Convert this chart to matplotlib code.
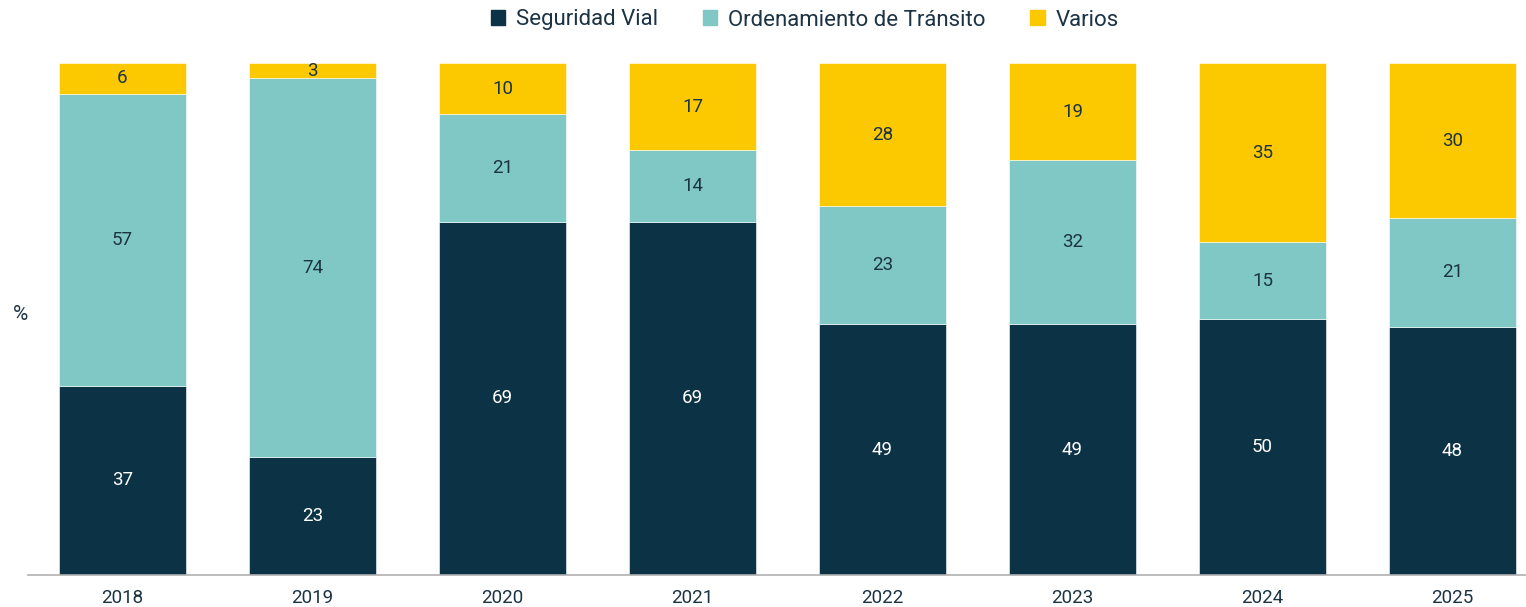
import matplotlib.pyplot as plt
import numpy as np
from matplotlib.patches import Patch

plt.rcParams['font.family'] = ['Roboto', 'DejaVu Sans']

years = ["2018", "2019", "2020", "2021", "2022", "2023", "2024", "2025"]
seguridad = [37, 23, 69, 69, 49, 49, 50, 48]
ordenamiento = [57, 74, 21, 14, 23, 32, 15, 21]
varios = [6, 3, 10, 17, 28, 19, 35, 30]

series = [("Seguridad Vial", seguridad, "#0b3245", "white"),
          ("Ordenamiento de Tránsito", ordenamiento, "#7fc8c6", "#1c3344"),
          ("Varios", varios, "#fcc800", "#1c3344")]

text_color = "#1c3344"

# totals per year, bars are stacked to 100%
totals = np.array(seguridad) + np.array(ordenamiento) + np.array(varios)

fig = plt.figure(figsize=(15.26, 6.07), dpi=100)
ax = fig.add_axes([27.5 / 1526, 32 / 607, 1520 / 1526, 512 / 607])

x = np.arange(len(years))
bottom = np.zeros(len(years))
for name, vals, color, lab_color in series:
    share = np.array(vals) / totals * 100
    ax.bar(x, share, 0.668, bottom=bottom, color=color, edgecolor="white",
           linewidth=0.4, label=name)
    for xi, b, s, v in zip(x, bottom, share, vals):
        ax.text(xi, b + s / 2, str(v), ha="center", va="center",
                fontsize=13.5, color=lab_color)
    bottom += share

ax.set_xlim(-0.5, 7.5)
ax.set_ylim(0, 100)
ax.set_xticks(x)
ax.set_xticklabels(years, fontsize=13.5, color=text_color)
ax.tick_params(axis="x", length=0, pad=10)
ax.set_yticks([])
for side in ["top", "right", "left"]:
    ax.spines[side].set_visible(False)
ax.spines["bottom"].set_color("#b0b0b0")
ax.spines["bottom"].set_linewidth(1.2)

fig.text(20 / 1526, 1 - 315 / 607, "%", fontsize=15, color=text_color,
         ha="center", va="center")

handles = [Patch(facecolor=c, edgecolor=c) for _, _, c, _ in series]
fig.legend(handles, [s[0] for s in series], loc="center",
           bbox_to_anchor=(805 / 1526, 1 - 20 / 607), ncol=3, frameon=False,
           fontsize=16, handlelength=0.65, handleheight=0.65, handletextpad=0.5,
           columnspacing=2.0, labelcolor=text_color)

fig.savefig("out.png", dpi=100)
